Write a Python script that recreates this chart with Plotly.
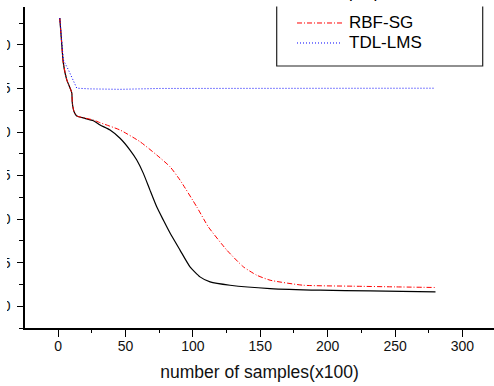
import plotly.graph_objects as go

# ---- data ----
proposed_x = [1.3, 2.7, 3.9, 6.5, 8.9, 10.2, 10.6, 11.9, 13.9, 20.0, 26.2, 31.2, 38.6, 46.0, 53.4,
              58.4, 63.3, 68.2, 73.2, 78.1, 83.1, 90.5, 97.9, 105.3, 112.8, 127.6, 157.3, 194.4,
              231.5, 255, 280]
proposed_y = [3.07, 0.23, -2.07, -4.02, -4.94, -5.5, -6.67, -7.67, -8.16, -8.43, -8.70, -9.20, -9.77,
              -10.72, -12.07, -13.22, -14.75, -16.67, -18.59, -20.11, -21.6, -23.56, -25.48, -26.63,
              -27.21, -27.59, -27.97, -28.16, -28.24, -28.3, -28.36]

rbf_x = [1.3, 2.7, 3.9, 6.5, 8.9, 10.2, 10.6, 11.9, 13.9, 20.0, 26.2, 31.2, 46.0, 60.8, 73.2, 83.1,
         90.5, 102.9, 111.5, 125.2, 137.5, 147.4, 157.3, 181.8, 218.8, 250, 280]
rbf_y = [3.07, 0.23, -2.07, -4.02, -4.94, -5.5, -6.67, -7.67, -8.16, -8.40, -8.62, -8.93, -9.77,
         -11.11, -12.64, -13.99, -15.52, -18.59, -20.89, -23.56, -25.48, -26.44, -27.01,
         -27.59, -27.70, -27.78, -27.85]

tdl_x = [1.3, 2.7, 3.9, 7.7, 11.4, 13.9, 23.8, 46, 75.8, 142.6, 217, 280]
tdl_y = [3.07, 0.57, -1.72, -2.87, -4.2, -4.97, -5.05, -5.1, -5.0, -4.97, -5.0, -4.97]

series_names = ["proposed", "RBF-SG", "TDL-LMS"]
x_ticks = [0, 50, 100, 150, 200, 250, 300]
y_ticks = [0, -5, -10, -15, -20, -25, -30]
x_title = "number of samples(x100)"

FONT = "Liberation Sans, Arial, sans-serif"
BLACK_LINE = dict(color="#000000", width=1.2)
RED_LINE = dict(color="#ff0000", width=1, dash="5px,2px,1px,2px")
BLUE_LINE = dict(color="#0000ff", width=1, dash="1px,2px")

fig = go.Figure()
fig.add_trace(go.Scatter(x=proposed_x, y=proposed_y, mode="lines", name=series_names[0],
                         line=dict(BLACK_LINE, shape="spline", smoothing=0.5), showlegend=False))
fig.add_trace(go.Scatter(x=rbf_x, y=rbf_y, mode="lines", name=series_names[1],
                         line=dict(RED_LINE, shape="spline", smoothing=0.5), showlegend=False))
fig.add_trace(go.Scatter(x=tdl_x, y=tdl_y, mode="lines", name=series_names[2],
                         line=BLUE_LINE, showlegend=False))

# plot area in screen pixels: x 25..494, y 6.7..327.8
PL, PR, PT, PB = 25.0, 494.0, 6.7, 327.8


def px(x):
    return (x - PL) / (PR - PL)


def py(y):
    return (PB - y) / (PB - PT)


shapes = []
# legend frame (its top edge lies above the visible picture)
shapes.append(dict(type="rect", xref="paper", yref="paper", x0=px(276.7), x1=px(482.7),
                   y0=py(65.7), y1=py(-30), line=dict(color="#222222", width=1.2),
                   fillcolor="rgba(0,0,0,0)", layer="above"))
legend_rows = [(series_names[0], 2.7, BLACK_LINE),
               (series_names[1], 22.7, RED_LINE),
               (series_names[2], 42.7, BLUE_LINE)]
for name, ypix, ln in legend_rows:
    shapes.append(dict(type="line", xref="paper", yref="paper", x0=px(297), x1=px(342),
                       y0=py(ypix), y1=py(ypix), line=ln, layer="above"))
# white strips: the picture is cropped at the top and at the left
shapes.append(dict(type="rect", xref="paper", yref="paper", x0=px(-10), x1=px(510),
                   y0=py(6.3), y1=py(-20), line=dict(width=0), fillcolor="white", layer="above"))
shapes.append(dict(type="rect", xref="paper", yref="paper", x0=px(-10), x1=px(7),
                   y0=py(400), y1=py(-20), line=dict(width=0), fillcolor="white", layer="above"))

annotations = []
# first legend entry: cropped away at the top of the picture
annotations.append(dict(x=px(347), y=py(-8), xref="paper", yref="paper", text=series_names[0],
                        showarrow=False, xanchor="left", yanchor="middle",
                        font=dict(family=FONT, size=17, color="#000000")))
for name, ypix, ln in legend_rows[1:]:
    annotations.append(dict(x=px(347), y=py(ypix - 0.7), xref="paper", yref="paper", text=name,
                            showarrow=False, xanchor="left", yanchor="middle",
                            font=dict(family=FONT, size=17, color="#000000")))

fig.update_layout(
    width=494, height=386,
    margin=dict(l=PL, r=0, t=PT, b=386 - PB, autoexpand=False),
    paper_bgcolor="white", plot_bgcolor="white",
    font=dict(family=FONT, color="#000000"),
    shapes=shapes, annotations=annotations,
    xaxis=dict(range=[-24.5, 323.4], tickvals=x_ticks, ticktext=[str(v) for v in x_ticks],
               showgrid=False, zeroline=False, showline=True, linecolor="#000000", linewidth=1.5,
               ticks="outside", ticklen=7, tickwidth=1.2, tickcolor="#000000",
               tickfont=dict(family=FONT, size=14, color="#111111"),
               ticklabelstandoff=-3,
               minor=dict(dtick=25, tick0=0, ticks="outside", ticklen=3, tickwidth=1.2,
                          tickcolor="#000000", showgrid=False),
               title=dict(text=x_title, font=dict(family=FONT, size=17.5, color="#111111"),
                          standoff=13),
               automargin=False),
    yaxis=dict(range=[-32.5, 4.35], tickvals=y_ticks, ticktext=[str(v) for v in y_ticks],
               showgrid=False, zeroline=False, showline=True, linecolor="#000000", linewidth=1.5,
               ticks="outside", ticklen=6, tickwidth=1.2, tickcolor="#000000",
               tickfont=dict(family=FONT, size=14, color="#111111"),
               ticklabelstandoff=4,
               minor=dict(dtick=2.5, tick0=0, ticks="outside", ticklen=4, tickwidth=1.2,
                          tickcolor="#000000", showgrid=False),
               automargin=False),
)

fig.write_html("out.html", config={"displayModeBar": False},
               post_script="document.body.style.margin='0';document.body.style.overflow='hidden';")
